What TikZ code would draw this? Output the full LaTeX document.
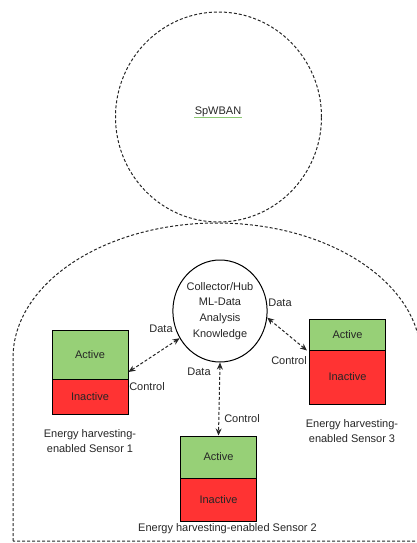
\documentclass[tikz,border=0pt]{standalone}
\usepackage{fontspec}
\setmainfont{Liberation Sans}
\usetikzlibrary{shapes.geometric,arrows.meta}
\definecolor{actgreen}{HTML}{97D077}
\definecolor{inactred}{HTML}{FF3333}
\definecolor{uline}{HTML}{8CC873}

\begin{document}
\begin{tikzpicture}[x=1pt,y=-1pt,
		every node/.style={font=\fontsize{11}{15.7}\selectfont, text=black!85},
		outline/.style={draw=black!85, line width=1pt, dash pattern=on 3pt off 2pt},
		link/.style={draw=black!85, line width=1pt, dash pattern=on 3pt off 2pt, {Stealth[length=7pt,width=6pt]}-{Stealth[length=7pt,width=6pt]}},
		state/.style={draw=black, line width=1pt, minimum width=76pt, inner sep=0pt}]
		\useasboundingbox (0,0) rectangle (416,543);
		\draw[outline] (13,541) -- (13,358) arc[start angle=180, end angle=0, x radius=204pt, y radius=135pt] -- (421,541) -- cycle;
		\draw[color=black, line width=1pt]
		node[ellipse,outline,minimum width=206pt,minimum height=210pt] (head) at (218.5,117){}
		node[inner sep=0pt] (title) at (218,112){SpWBAN}
		node[ellipse,draw=black,line width=1pt,minimum width=90pt,minimum height=102pt,inner sep=0pt,align=center] (hub) at (220,311){Collector/Hub\\ML-Data\\Analysis\\Knowledge}
		node[state,fill=actgreen,minimum height=49pt] (act1) at (90,354.5){Active}
		node[state,fill=inactred,minimum height=35pt] (inact1) at (90,396.5){Inactive}
		node[state,fill=actgreen,minimum height=42pt] (act2) at (218.5,457){Active}
		node[state,fill=inactred,minimum height=43pt] (inact2) at (218.5,499.5){Inactive}
		node[state,fill=actgreen,minimum height=31pt] (act3) at (347.5,334.5){Active}
		node[state,fill=inactred,minimum height=54pt] (inact3) at (347.5,377){Inactive}
		node[align=center,inner sep=0pt] (cap1) at (90,441){Energy harvesting-\\enabled Sensor 1}
		node[inner sep=0pt] (cap2) at (227.5,529){Energy harvesting-enabled Sensor 2}
		node[align=center,inner sep=0pt] (cap3) at (352,431){Energy harvesting-\\enabled Sensor 3}
		node[inner sep=0pt] (data1) at (161,329){Data}
		node[inner sep=0pt] (ctrl1) at (147,387){Control}
		node[inner sep=0pt] (data2) at (199,372){Data}
		node[inner sep=0pt] (ctrl2) at (242,419){Control}
		node[inner sep=0pt] (data3) at (280,303){Data}
		node[inner sep=0pt] (ctrl3) at (289,361){Control};
		\draw [draw=uline, line width=1pt] ([yshift=-3pt]title.base west) -- ([yshift=-3pt]title.base east);
		\draw [link] ([yshift=-17.5pt]act1.east) -- (hub.214);
		\draw [link] (hub.south) -- (act2.north);
		\draw [link] (hub.-8) -- ([xshift=-2pt]act3.south west);
\end{tikzpicture}
\end{document}
